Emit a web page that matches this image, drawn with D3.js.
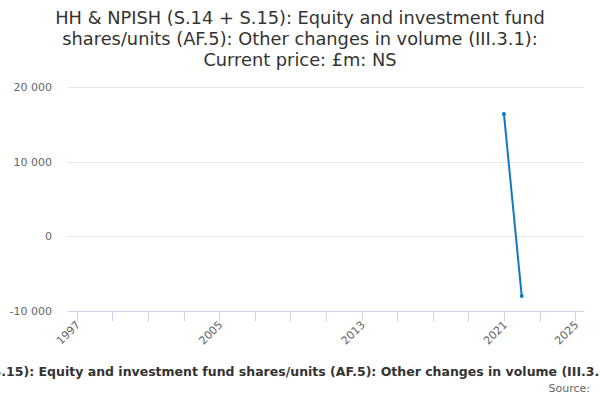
<!DOCTYPE html>
<html lang="en">
<head>
  <meta charset="UTF-8">
  <title>HH & NPISH AF.5 Other changes in volume</title>
  <script src="https://d3js.org/d3.v7.min.js"></script>
  <style>
    body {
      margin: 0;
      background: #fff;
      font-family: 'DejaVu Sans', sans-serif;
    }
    svg { display: block; }
    .grid line { stroke: #e6e6e6; }
    .axis-label { fill: #666; font-size: 11px; }
    .line { fill: none; stroke: #1078c8; stroke-width: 2px; }
  </style>
</head>
<body>
  <svg id="chart"></svg>

  <script>
    const titleLines = [
      "HH & NPISH (S.14 + S.15): Equity and investment fund",
      "shares/units (AF.5): Other changes in volume (III.3.1):",
      "Current price: £m: NS"
    ];
    const axisTitle = "HH & NPISH (S.14 + S.15): Equity and investment fund shares/units (AF.5): Other changes in volume (III.3.1): Current price: £m: NS";
    const years = [2021, 2022];
    const values = [16400, -8000];
    const yTicks = [-10000, 0, 10000, 20000];
    const xTicks = [1997, 1999, 2001, 2003, 2005, 2007, 2009, 2011, 2013, 2015, 2017, 2019, 2021, 2023, 2025];
    const xLabels = [1997, 2005, 2013, 2021, 2025];

    const width = 600, height = 400;
    const margin = { top: 87, right: 16, bottom: 89, left: 68 };

    const svg = d3.select("#chart")
      .attr("width", width)
      .attr("height", height);

    const x = d3.scaleLinear()
      .domain([1996.5, 2025.5])
      .range([margin.left, width - margin.right]);

    const y = d3.scaleLinear()
      .domain([-10000, 20000])
      .range([height - margin.bottom, margin.top]);

    // space as thousands separator, plain hyphen for negatives
    const fmt = v => d3.format(",")(v).replace(/,/g, " ").replace("\u2212", "-");

    // title
    svg.append("text")
      .attr("text-anchor", "middle")
      .style("font-size", "17.8px")
      .style("fill", "#333")
      .selectAll("tspan")
      .data(titleLines)
      .enter().append("tspan")
      .attr("x", width / 2)
      .attr("y", (d, i) => 24 + i * 21)
      .text(d => d);

    // grid
    svg.append("g")
      .attr("class", "grid")
      .selectAll("line")
      .data(yTicks)
      .enter().append("line")
      .attr("x1", margin.left)
      .attr("x2", width - margin.right)
      .attr("y1", d => Math.round(y(d)) + 0.5)
      .attr("y2", d => Math.round(y(d)) + 0.5);

    svg.append("g")
      .selectAll("text")
      .data(yTicks)
      .enter().append("text")
      .attr("class", "axis-label")
      .attr("x", 52)
      .attr("y", d => y(d) + 4)
      .attr("text-anchor", "end")
      .text(fmt);

    // x axis
    const xAxis = svg.append("g");
    const axisY = Math.round(y(-10000)) + 0.5;
    xAxis.append("line")
      .attr("x1", margin.left)
      .attr("x2", width - margin.right)
      .attr("y1", axisY)
      .attr("y2", axisY)
      .attr("stroke", "#ccd6eb");

    xAxis.selectAll(".tick")
      .data(xTicks)
      .enter().append("line")
      .attr("x1", d => Math.round(x(d)) + 0.5)
      .attr("x2", d => Math.round(x(d)) + 0.5)
      .attr("y1", axisY)
      .attr("y2", axisY + 10)
      .attr("stroke", "#ccd6eb");

    xAxis.selectAll("text")
      .data(xLabels)
      .enter().append("text")
      .attr("class", "axis-label")
      .attr("text-anchor", "end")
      .attr("transform", d => `translate(${x(d) + 4},${axisY + 14}) rotate(-45)`)
      .text(d => d);

    // axis title is wider than the chart, so it runs off both edges
    svg.append("text")
      .attr("x", 312)
      .attr("y", 376)
      .attr("text-anchor", "middle")
      .style("font-size", "12.5px")
      .style("font-weight", "bold")
      .style("fill", "#333")
      .text(axisTitle);

    svg.append("text")
      .attr("x", 590)
      .attr("y", 392)
      .attr("text-anchor", "end")
      .style("font-size", "11px")
      .style("fill", "#666")
      .text("Source:");

    // series
    const data = years.map((yr, i) => ({ year: yr, value: values[i] }));

    const line = d3.line()
      .x(d => x(d.year))
      .y(d => y(d.value));

    svg.append("path")
      .datum(data)
      .attr("class", "line")
      .attr("d", line);

    svg.selectAll(".dot")
      .data(data)
      .enter().append("circle")
      .attr("class", "dot")
      .attr("cx", d => x(d.year))
      .attr("cy", d => y(d.value))
      .attr("r", 2)
      .attr("fill", "#1078c8");
  </script>
</body>
</html>
